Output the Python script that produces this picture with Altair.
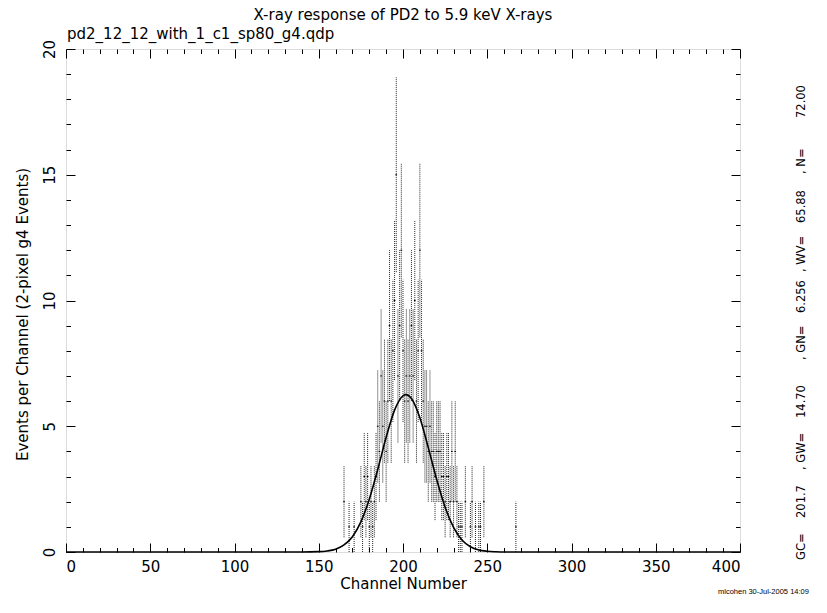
import altair as alt
import pandas as pd

# ---- data ----
channel = [165, 168, 171, 175, 176, 177, 178, 179, 180, 181, 182, 183, 184,
           185, 186, 187, 188, 189, 190, 191, 192, 193, 194, 195, 196, 197,
           198, 199, 200, 201, 202, 203, 204, 205, 206, 207, 208, 209, 210,
           211, 212, 213, 214, 215, 216, 217, 218, 219, 220, 221, 222, 223,
           224, 225, 226, 227, 228, 229, 230, 231, 232, 233, 234, 235, 237,
           240, 241, 243, 245, 246, 248, 267]
count = [2, 1, 1, 2, 1, 3, 2, 3, 1, 2, 1, 2, 3,
         5, 4, 7, 5, 6, 4, 6, 9, 6, 8, 10, 15, 7,
         9, 12, 8, 6, 7, 6, 7, 9, 7, 10, 6, 8, 12,
         8, 6, 5, 5, 4, 5, 4, 4, 3, 4, 4, 4, 3,
         3, 2, 3, 3, 2, 4, 2, 4, 2, 1, 1, 1, 2,
         1, 2, 1, 1, 1, 2, 1]

# fitted gaussian model curve
curve_x = [0, 140, 150, 155, 160, 165, 170, 175, 180, 185, 190, 195, 200,
           201.7, 205, 210, 215, 220, 225, 230, 235, 240, 245, 250, 255, 260, 400]
curve_y = [0, 0, 0.013, 0.04, 0.11, 0.28, 0.61, 1.20, 2.10, 3.28, 4.56, 5.64,
           6.21, 6.256, 6.10, 5.34, 4.15, 2.88, 1.78, 0.98, 0.48, 0.21, 0.08,
           0.03, 0.01, 0, 0]

title_text = "X-ray response of PD2 to 5.9 keV X-rays"
file_text = "pd2_12_12_with_1_c1_sp80_g4.qdp"
x_title = "Channel Number"
y_title = "Events per Channel (2-pixel g4 Events)"
fit_labels = ["GC=", "201.7", ", GW=", "14.70", ", GN=", "6.256",
              ", WV=", "65.88", ", N=", "72.00"]
fit_label_pos = [511, 469, 421, 369, 311, 264, 223, 174, 125, 69]
stamp_text = "mlcohen 30-Jul-2005 14:09"

x_major = [0, 50, 100, 150, 200, 250, 300, 350, 400]
x_minor = list(range(0, 401, 10))
y_major = [0, 5, 10, 15, 20]
y_minor = list(range(0, 21))

# ---- layout ----
W, H = 674, 503
FONT = "DejaVu Sans"

df = pd.DataFrame({"channel": channel, "count": count})
curve = pd.DataFrame({"x": curve_x, "y": curve_y})

xscale = alt.Scale(domain=[0, 400], nice=False, zero=False)
yscale = alt.Scale(domain=[0, 20], nice=False, zero=False)

xsize = {"condition": {"test": "datum.value % 50 === 0", "value": 9}, "value": 4.5}
ysize = {"condition": {"test": "datum.value % 5 === 0", "value": 9}, "value": 4.5}

x_label_axis = alt.Axis(orient="bottom", values=x_major, ticks=False, domain=False,
                        labelPadding=7, labelFontSize=15, labelFont=FONT,
                        labelColor="black", title=x_title, titleFont=FONT,
                        titleFontSize=15, titleFontWeight="normal",
                        titleColor="black", titlePadding=2, grid=False)
x_ticks_bottom = alt.Axis(orient="top", offset=-H, values=x_minor, labels=False,
                          domain=False, title="", tickSize=xsize,
                          tickColor="black", grid=False)
x_ticks_top = alt.Axis(orient="bottom", offset=-H, values=x_minor, labels=False,
                       domain=False, title="", tickSize=xsize,
                       tickColor="black", grid=False)

y_label_axis = alt.Axis(orient="left", values=y_major, ticks=False, domain=False,
                        labelAngle=270, labelAlign="center", labelBaseline="bottom",
                        labelPadding=9, labelFontSize=15, labelFont=FONT,
                        labelColor="black", title=y_title, titleFont=FONT,
                        titleFontSize=15, titleFontWeight="normal",
                        titleColor="black", titleAngle=270, titleAlign="center",
                        titleBaseline="middle", titleX=-44, titleY=265, grid=False)
y_ticks_left = alt.Axis(orient="right", offset=-W, values=y_minor, labels=False,
                        domain=False, title="", tickSize=ysize,
                        tickColor="black", grid=False)
y_ticks_right = alt.Axis(orient="left", offset=-W, values=y_minor, labels=False,
                         domain=False, title="", tickSize=ysize,
                         tickColor="black", grid=False)

errbars = alt.Chart(df).transform_calculate(
    lo="max(0, datum.count - sqrt(datum.count))",
    hi="datum.count + sqrt(datum.count)",
).mark_rule(color="black", strokeWidth=1, strokeDash=[1, 1], opacity=0.85).encode(
    x=alt.X("channel:Q", scale=xscale, axis=x_label_axis),
    y=alt.Y("lo:Q", scale=yscale, axis=y_label_axis),
    y2="hi:Q",
)

centers = alt.Chart(df).transform_calculate(
    x0="datum.channel - 0.5", x1="datum.channel + 0.5"
).mark_rule(color="black", strokeWidth=1).encode(
    x=alt.X("x0:Q", scale=xscale, axis=x_ticks_bottom),
    x2="x1:Q",
    y=alt.Y("count:Q", scale=yscale, axis=y_ticks_left),
)

model = alt.Chart(curve).mark_line(color="black", strokeWidth=1.6,
                                   interpolate="monotone").encode(
    x=alt.X("x:Q", scale=xscale, axis=x_ticks_top),
    y=alt.Y("y:Q", scale=yscale, axis=y_ticks_right),
)

def label(txt, x, y, size, align="left", angle=0, font=FONT, baseline="middle"):
    return alt.Chart(pd.DataFrame({"t": [txt]})).mark_text(
        font=font, fontSize=size, color="black", align=align,
        baseline=baseline, angle=angle,
    ).encode(x=alt.value(x), y=alt.value(y), text="t:N")

texts = [
    label(title_text, W / 2, -41, 15, align="center", baseline="top"),
    label(file_text, 1, -15, 15),
    label(stamp_text, 652, 543, 7.5, font="Liberation Sans"),
]
for t, p in zip(fit_labels, fit_label_pos):
    texts.append(label(t, 736, p, 11.5, angle=270))

chart = alt.layer(errbars, centers, model, *texts).resolve_axis(
    x="independent", y="independent"
).properties(
    width=W, height=H, autosize="none",
    padding={"left": 58, "top": 41, "right": 79, "bottom": 48},
).configure_view(stroke="black", strokeWidth=1).configure(background="white")

chart.save("out.html", embed_options={"renderer": "svg", "actions": False})
